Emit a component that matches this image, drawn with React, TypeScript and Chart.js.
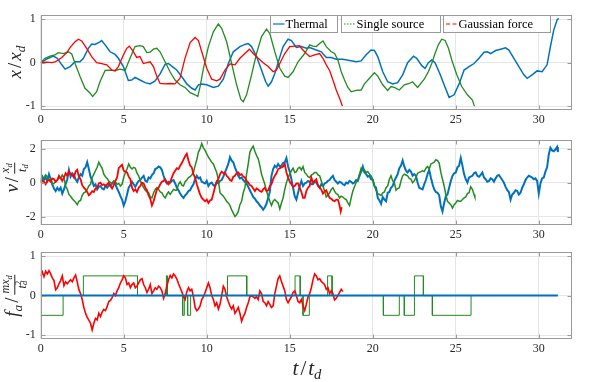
import React, { useEffect, useRef } from 'react';
import { Chart, registerables } from 'chart.js';
Chart.register(...registerables);

type P = [number, number][];

const SERIES_NAMES = ['Thermal', 'Single source', 'Gaussian force'];
const X_TICKS = [0, 5, 10, 15, 20, 25, 30];
const Y1_TICKS = [-1, 0, 1];
const Y2_TICKS = [-2, 0, 2];
const Y3_TICKS = [-1, 0, 1];

// Panel 1: position x/x_d
const thermalX: P = [[0,0],[0.36,0.08],[0.76,0.15],[1.0,0.1],[1.27,-0.05],[1.47,-0.15],[1.77,-0.09],[2.07,0.02],[2.37,0.02],[2.57,0.1],[2.87,0.33],[3.07,0.43],[3.27,0.42],[3.57,0.48],[3.67,0.51],[3.88,0.41],[4.18,0.25],[4.48,0.19],[4.68,0.1],[4.98,-0.09],[5.28,-0.41],[5.48,-0.4],[5.68,-0.34],[5.98,-0.4],[6.29,-0.46],[6.59,-0.49],[6.89,-0.42],[7.19,-0.26],[7.49,-0.04],[7.69,-0.02],[7.89,-0.08],[8.19,-0.17],[8.49,-0.32],[8.8,-0.49],[9.1,-0.59],[9.3,-0.63],[9.5,-0.51],[9.7,-0.49],[10.0,-0.51],[10.4,-0.57],[10.7,-0.54],[11.0,-0.38],[11.3,-0.02],[11.6,0.25],[12.0,0.37],[12.3,0.42],[12.5,0.44],[12.7,0.37],[13.0,0.14],[13.3,-0.17],[13.55,-0.44],[13.7,-0.54],[13.9,-0.44],[14.1,-0.25],[14.3,0.0],[14.6,0.37],[14.9,0.54],[15.1,0.51],[15.4,0.35],[15.7,0.37],[16.0,0.33],[16.2,0.35],[16.6,0.29],[16.9,0.25],[17.2,0.12],[17.5,0.12],[17.8,0.08],[18.2,0.08],[18.6,0.05],[19.0,0.02],[19.3,0.04],[19.6,0.18],[19.9,0.29],[20.1,0.28],[20.3,0.14],[20.6,-0.21],[20.9,-0.44],[21.2,-0.49],[21.5,-0.46],[21.8,-0.28],[22.1,0.0],[22.45,0.15],[22.65,0.1],[22.95,-0.07],[23.15,-0.13],[23.35,0.0],[23.55,0.06],[23.75,0.0],[24.05,-0.26],[24.36,-0.57],[24.6,-0.8],[24.9,-0.74],[25.2,-0.49],[25.5,-0.17],[25.8,-0.09],[26.1,-0.02],[26.4,0.1],[26.7,0.24],[26.9,0.25],[27.1,0.21],[27.4,0.28],[27.7,0.31],[28.0,0.34],[28.2,0.29],[28.5,0.1],[28.8,-0.09],[29.1,-0.28],[29.3,-0.36],[29.6,-0.28],[29.9,-0.19],[30.2,-0.21],[30.5,-0.05],[30.7,0.37],[30.9,0.75],[31.1,0.98],[31.2,1.02]];
const singleX: P = [[0,0],[0.26,0.1],[0.56,0.15],[0.86,0.18],[1.06,0.23],[1.37,0.21],[1.67,0.25],[1.87,0.2],[2.07,-0.02],[2.37,-0.32],[2.67,-0.59],[2.97,-0.7],[3.13,-0.78],[3.37,-0.67],[3.57,-0.44],[3.88,-0.18],[4.18,-0.17],[4.48,-0.18],[4.78,-0.15],[5.08,-0.18],[5.38,0.1],[5.68,0.37],[5.98,0.39],[6.18,0.37],[6.39,0.23],[6.59,0.24],[6.79,0.31],[6.99,0.33],[7.19,0.25],[7.49,0.02],[7.79,-0.21],[8.09,-0.4],[8.39,-0.51],[8.69,-0.57],[9.0,-0.69],[9.3,-0.74],[9.46,-0.78],[9.6,-0.55],[9.8,-0.13],[10.1,0.37],[10.4,0.71],[10.7,0.89],[10.9,0.79],[11.2,0.48],[11.5,-0.02],[11.8,-0.51],[12.05,-0.84],[12.2,-0.9],[12.4,-0.74],[12.7,-0.28],[13.0,0.21],[13.3,0.6],[13.6,0.77],[13.8,0.67],[14.1,0.25],[14.4,-0.13],[14.7,-0.31],[14.9,-0.34],[15.2,-0.21],[15.5,0.02],[15.9,0.21],[16.2,0.41],[16.4,0.38],[16.6,0.37],[16.8,0.44],[17.0,0.5],[17.2,0.37],[17.5,0.25],[17.7,0.21],[17.9,0.06],[18.1,-0.21],[18.3,-0.4],[18.5,-0.57],[18.7,-0.67],[19.0,-0.64],[19.3,-0.63],[19.5,-0.49],[19.8,-0.36],[20.1,-0.23],[20.3,-0.31],[20.6,-0.51],[20.9,-0.64],[21.1,-0.55],[21.3,-0.57],[21.6,-0.63],[21.9,-0.51],[22.2,-0.48],[22.4,-0.44],[22.7,-0.57],[23.1,-0.38],[23.35,-0.21],[23.55,-0.02],[23.75,0.21],[23.95,0.41],[24.15,0.54],[24.36,0.51],[24.56,0.33],[24.76,0.06],[25.06,-0.28],[25.36,-0.55],[25.7,-0.74],[26.0,-0.86],[26.12,-1.0]];
const gaussX: P = [[0,0],[0.36,0.01],[0.66,0],[0.86,0.02],[1.06,0.06],[1.27,0.12],[1.57,0.23],[1.81,0.37],[2.07,0.48],[2.27,0.54],[2.47,0.5],[2.77,0.33],[3.07,0.14],[3.37,0],[3.67,-0.02],[3.98,-0.05],[4.28,-0.17],[4.48,-0.19],[4.68,-0.09],[4.94,0.14],[5.18,0.33],[5.34,0.38],[5.54,0.28],[5.78,0.12],[5.98,0.14],[6.18,-0.02],[6.39,0],[6.59,0.02],[6.79,-0.09],[6.99,-0.31],[7.19,-0.48],[7.49,-0.49],[7.79,-0.48],[8.09,-0.49],[8.39,-0.36],[8.69,0.1],[9.0,0.46],[9.3,0.58],[9.5,0.51],[9.7,0.25],[10.0,-0.13],[10.3,-0.38],[10.6,-0.42],[10.8,-0.38],[11.1,-0.17],[11.4,-0.03],[11.7,-0.05],[12.0,0.1],[12.3,0.21],[12.57,0.31],[12.8,0.21],[13.1,0.1],[13.4,0],[13.7,-0.09],[14.0,-0.21],[14.2,-0.17],[14.4,-0.02],[14.7,0.21],[15.0,0.37],[15.3,0.38],[15.6,0.39],[15.7,0.33],[16.0,0.21],[16.2,0.14],[16.5,0.18],[16.8,0.21],[17.0,0.1],[17.2,-0.05],[17.4,-0.18],[17.6,-0.4],[17.8,-0.63],[18.0,-0.82],[18.17,-1.0]];

// Panel 2: velocity v/(x_d/t_d)
const thermalV: P = [[0,0.1],[0.1,0.35],[0.2,0.15],[0.3,0.3],[0.4,0.1],[0.5,0.5],[0.6,0.2],[0.7,-0.1],[0.8,-0.35],[0.9,-0.5],[1.0,-0.3],[1.1,-0.45],[1.2,-0.3],[1.3,-0.65],[1.4,-0.4],[1.5,-0.1],[1.6,0.2],[1.7,0.75],[1.8,0.35],[1.9,0.55],[2.0,0.45],[2.1,0.2],[2.2,0.05],[2.3,0.3],[2.4,0.5],[2.5,0.4],[2.6,0.8],[2.7,0.9],[2.8,1.2],[2.9,0.8],[3.0,0.35],[3.1,0.1],[3.2,-0.2],[3.3,-0.1],[3.4,-0.4],[3.5,-0.25],[3.6,-0.2],[3.7,-0.35],[3.8,-0.4],[3.9,-0.2],[4.0,-0.3],[4.1,-0.15],[4.2,-0.2],[4.3,-0.05],[4.4,0.05],[4.5,-0.1],[4.6,-0.35],[4.7,-0.55],[4.8,-0.8],[4.9,-1.0],[5.0,-1.35],[5.1,-1.1],[5.2,-0.7],[5.3,-0.3],[5.4,-0.15],[5.5,0.05],[5.6,-0.1],[5.7,-0.25],[5.8,-0.05],[5.9,0.1],[6.0,0.15],[6.1,0.3],[6.2,0.4],[6.3,0.1],[6.4,0.05],[6.5,0.3],[6.6,0.25],[6.7,0.45],[6.8,0.55],[6.9,0.8],[7.0,0.85],[7.1,0.95],[7.2,0.9],[7.3,0.75],[7.4,0.4],[7.5,0.1],[7.6,-0.05],[7.7,0.05],[7.8,0.0],[7.9,0.1],[8.0,0.15],[8.1,-0.05],[8.2,-0.3],[8.3,-0.45],[8.4,-0.65],[8.5,-0.8],[8.6,-0.9],[8.7,-0.75],[8.8,-0.65],[8.9,-0.5],[9.0,-0.45],[9.1,-0.25],[9.2,-0.1],[9.3,0.2],[9.4,0.4],[9.5,0.25],[9.6,0.3],[9.7,0.05],[9.8,0.0],[9.9,-0.05],[10.0,0.1],[10.1,-0.2],[10.2,-0.05],[10.3,0.0],[10.4,-0.15],[10.5,-0.2],[10.6,0.05],[10.7,-0.05],[10.8,0.1],[10.9,0.15],[11.0,0.35],[11.1,0.6],[11.2,0.85],[11.3,1.1],[11.4,1.5],[11.5,1.3],[11.6,1.2],[11.7,0.9],[11.8,0.65],[11.9,0.4],[12.0,0.25],[12.1,0.3],[12.2,0.15],[12.3,0.05],[12.4,-0.05],[12.5,-0.25],[12.6,-0.45],[12.7,-0.65],[12.8,-0.85],[12.9,-0.95],[13.0,-1.1],[13.1,-1.2],[13.2,-1.35],[13.3,-1.45],[13.4,-1.6],[13.5,-1.45],[13.6,-1.25],[13.7,-0.9],[13.8,-0.55],[13.9,0.4],[14.0,0.8],[14.1,1.0],[14.2,0.9],[14.3,1.1],[14.4,0.95],[14.5,1.0],[14.6,1.15],[14.7,1.2],[14.8,1.45],[14.9,0.95],[15.0,0.65],[15.1,0.2],[15.2,-0.3],[15.3,-0.8],[15.4,-1.0],[15.5,-0.6],[15.6,-0.2],[15.7,0.1],[15.8,-0.2],[15.9,-0.05],[16.0,0.0],[16.1,0.1],[16.2,0.05],[16.3,-0.1],[16.4,-0.1],[16.5,0.05],[16.6,0.0],[16.7,-0.15],[16.8,-0.3],[16.9,-0.1],[17.0,-0.2],[17.1,-0.05],[17.2,0.0],[17.3,0.1],[17.4,0.15],[17.5,0.3],[17.6,0.4],[17.7,0.15],[17.8,0.05],[17.9,-0.05],[18.0,0.05],[18.1,0.0],[18.2,-0.1],[18.3,-0.15],[18.4,0.0],[18.5,-0.05],[18.6,0.1],[18.7,0.05],[18.8,-0.05],[18.9,0.0],[19.0,0.15],[19.1,0.1],[19.2,0.4],[19.3,0.65],[19.4,0.95],[19.5,0.6],[19.6,0.5],[19.7,0.35],[19.8,0.4],[19.9,0.2],[20.0,0.15],[20.1,-0.2],[20.2,-0.3],[20.3,-0.9],[20.4,-1.05],[20.5,-1.25],[20.6,-0.85],[20.7,-1.0],[20.8,-1.1],[20.9,-0.6],[21.0,-0.55],[21.1,-0.3],[21.2,-0.2],[21.3,0.1],[21.4,0.3],[21.5,0.5],[21.6,0.85],[21.7,1.0],[21.8,1.3],[21.9,0.95],[22.0,0.7],[22.1,0.6],[22.2,0.75],[22.3,0.65],[22.4,0.4],[22.5,0.5],[22.6,0.4],[22.7,0.0],[22.8,-0.3],[22.9,-0.35],[23.0,-0.4],[23.1,-0.1],[23.2,0.15],[23.3,0.5],[23.4,0.75],[23.5,0.3],[23.6,-0.1],[23.7,-0.4],[23.8,-0.55],[23.9,-0.6],[24.0,-0.75],[24.1,-1.4],[24.2,-1.7],[24.3,-1.2],[24.4,-0.8],[24.5,-0.7],[24.6,-0.3],[24.7,0.1],[24.8,0.4],[24.9,0.55],[25.0,0.6],[25.1,0.9],[25.2,1.0],[25.3,1.45],[25.4,1.0],[25.5,0.5],[25.6,0.2],[25.7,0.0],[25.8,0.3],[25.9,0.35],[26.0,0.4],[26.1,0.55],[26.2,0.6],[26.3,0.4],[26.4,0.35],[26.5,0.45],[26.6,0.6],[26.7,0.3],[26.8,0.2],[26.9,0.05],[27.0,0.1],[27.1,0.25],[27.2,0.2],[27.3,0.05],[27.4,0.25],[27.5,0.4],[27.6,0.45],[27.7,0.3],[27.8,0.15],[27.9,0.0],[28.0,-0.25],[28.1,-0.45],[28.2,-0.55],[28.3,-1.0],[28.4,-0.7],[28.5,-0.6],[28.6,-0.45],[28.7,-0.5],[28.8,-0.7],[28.9,-0.6],[29.0,-0.3],[29.1,-0.1],[29.2,0.15],[29.3,0.3],[29.4,0.4],[29.5,0.35],[29.6,0.3],[29.7,0.2],[29.8,0.25],[29.9,0.1],[30.0,-0.65],[30.1,-0.05],[30.2,0.25],[30.3,0.3],[30.4,0.65],[30.5,0.9],[30.6,1.65],[30.7,2.05],[30.8,1.9],[30.9,1.85],[31.0,1.95],[31.1,2.1],[31.15,1.8]];
const singleV: P = [[0,0],[0.1,0.2],[0.2,0.3],[0.3,0.45],[0.4,0.35],[0.5,0.15],[0.6,0.2],[0.7,-0.1],[0.8,-0.05],[0.9,0.05],[1.0,0.15],[1.1,0.3],[1.2,0.25],[1.3,0.45],[1.4,0.3],[1.5,-0.2],[1.6,-0.4],[1.7,-0.7],[1.8,-0.8],[1.9,-0.95],[2.0,-1.05],[2.1,-1.15],[2.2,-1.3],[2.3,-1.1],[2.4,-1.05],[2.5,-0.75],[2.6,-0.6],[2.7,-0.55],[2.8,-0.4],[2.9,-0.2],[3.0,-0.1],[3.1,0.3],[3.2,0.5],[3.3,0.7],[3.4,0.9],[3.5,1.2],[3.6,1.0],[3.7,0.85],[3.8,0.5],[3.9,0.35],[4.0,0.25],[4.1,0.1],[4.2,0.0],[4.3,-0.05],[4.4,0.1],[4.5,0.05],[4.6,-0.1],[4.7,-0.05],[4.8,-0.2],[4.9,-0.1],[5.0,0.3],[5.1,0.6],[5.2,0.8],[5.3,1.1],[5.4,0.9],[5.5,0.8],[5.6,0.9],[5.7,0.85],[5.8,0.55],[5.9,0.4],[6.0,0.1],[6.1,-0.1],[6.2,-0.3],[6.3,-0.45],[6.4,-0.55],[6.5,-0.6],[6.6,-0.85],[6.7,-0.9],[6.8,-0.6],[6.9,-0.4],[7.0,-0.3],[7.1,-0.4],[7.2,-0.55],[7.3,-0.6],[7.4,-0.8],[7.5,-0.9],[7.6,-0.7],[7.7,-0.55],[7.8,-0.7],[7.9,-0.55],[8.0,-0.4],[8.1,-0.45],[8.2,-0.45],[8.3,-0.1],[8.4,0.05],[8.5,-0.15],[8.6,-0.2],[8.7,0.05],[8.8,0.15],[8.9,0.3],[9.0,0.35],[9.1,0.45],[9.2,0.6],[9.3,1.0],[9.4,1.35],[9.5,1.8],[9.6,2.0],[9.7,2.3],[9.8,2.05],[9.9,1.9],[10.0,1.7],[10.1,1.5],[10.2,1.35],[10.3,1.2],[10.4,1.1],[10.5,0.85],[10.6,0.6],[10.7,0.15],[10.8,-0.6],[10.9,-0.7],[11.0,-0.8],[11.1,-0.95],[11.2,-1.1],[11.3,-1.2],[11.4,-1.35],[11.5,-1.6],[11.6,-1.8],[11.7,-2.0],[11.8,-1.9],[11.9,-1.7],[12.0,-1.3],[12.1,-1.1],[12.2,-0.6],[12.3,-0.3],[12.4,0.5],[12.5,1.1],[12.6,1.8],[12.7,2.0],[12.8,2.15],[12.9,1.85],[13.0,1.6],[13.1,1.4],[13.2,1.0],[13.3,0.5],[13.4,0.2],[13.5,-0.1],[13.6,-0.5],[13.7,-0.8],[13.8,-1.1],[13.9,-1.35],[14.0,-1.1],[14.1,-1.0],[14.2,-1.1],[14.3,-1.2],[14.4,-1.55],[14.5,-1.2],[14.6,-0.9],[14.7,-0.4],[14.8,0.0],[14.9,0.3],[15.0,0.5],[15.1,0.7],[15.2,0.85],[15.3,0.6],[15.4,0.65],[15.5,0.85],[15.6,0.9],[15.7,0.75],[15.8,0.95],[15.9,0.6],[16.0,0.5],[16.1,0.35],[16.2,0.3],[16.3,0.45],[16.4,0.5],[16.5,0.6],[16.6,0.6],[16.7,0.45],[16.8,0.4],[16.9,0.1],[17.0,-0.2],[17.1,-0.5],[17.2,-0.85],[17.3,-0.75],[17.4,-0.6],[17.5,-0.4],[17.6,-0.3],[17.7,-0.5],[17.8,-0.65],[17.9,-0.7],[18.0,-0.9],[18.1,-0.8],[18.2,-0.85],[18.3,-0.95],[18.4,-1.0],[18.5,-1.2],[18.6,-1.35],[18.7,-0.9],[18.8,-0.5],[18.9,-0.25],[19.0,0.0],[19.1,0.15],[19.2,0.5],[19.3,0.85],[19.4,0.7],[19.5,0.75],[19.6,0.6],[19.7,0.65],[19.8,0.5],[19.9,0.4],[20.0,0.2],[20.1,-0.2],[20.2,-0.45],[20.3,-0.65],[20.4,-0.7],[20.5,-0.75],[20.6,-0.6],[20.7,-0.55],[20.8,-0.3],[20.9,-0.2],[21.0,0.2],[21.1,0.4],[21.2,0.1],[21.3,0.0],[21.4,-0.45],[21.5,-0.35],[21.6,-0.3],[21.7,0.1],[21.8,0.4],[21.9,0.5],[22.0,0.45],[22.1,0.4],[22.2,0.25],[22.3,0.2],[22.4,0.0],[22.5,0.1],[22.6,0.3],[22.7,0.55],[22.8,0.6],[22.9,0.65],[23.0,0.7],[23.1,0.65],[23.2,0.85],[23.3,0.95],[23.4,0.8],[23.5,1.1],[23.6,1.15],[23.7,1.2],[23.8,1.35],[23.9,1.3],[24.0,1.15],[24.1,0.6],[24.2,0.2],[24.3,-0.2],[24.4,-0.7],[24.5,-1.1],[24.6,-1.2],[24.7,-1.3],[24.8,-1.5],[24.9,-1.3],[25.0,-1.2],[25.1,-1.05],[25.2,-1.1],[25.3,-1.1],[25.4,-1.0],[25.5,-0.9],[25.6,-0.85],[25.7,-0.65],[25.8,-0.6],[25.9,-0.25],[26.0,-0.4],[26.1,-0.7],[26.15,-0.85]];
const gaussV: P = [[0,0],[0.1,0.1],[0.2,0.05],[0.3,-0.1],[0.4,0.1],[0.5,0.15],[0.6,0.05],[0.7,0.25],[0.8,0.2],[0.9,0.05],[1.0,0.15],[1.1,0.4],[1.2,0.25],[1.3,0.1],[1.4,0.3],[1.5,0.55],[1.6,0.4],[1.7,0.65],[1.8,0.5],[1.9,0.45],[2.0,0.3],[2.1,0.65],[2.2,0.75],[2.3,0.35],[2.4,0.2],[2.5,-0.15],[2.6,-0.3],[2.7,-0.4],[2.8,-0.55],[2.9,-0.75],[3.0,-0.65],[3.1,-0.5],[3.2,-0.55],[3.3,-0.35],[3.4,-0.3],[3.5,-0.05],[3.6,0.0],[3.7,-0.15],[3.8,-0.1],[3.9,-0.2],[4.0,-0.1],[4.1,0.0],[4.2,-0.2],[4.3,-0.35],[4.4,-0.15],[4.5,0.1],[4.6,0.3],[4.7,0.85],[4.8,0.95],[4.9,1.05],[5.0,0.7],[5.1,0.65],[5.2,0.6],[5.3,0.35],[5.4,0.2],[5.5,-0.3],[5.6,-0.5],[5.7,-0.4],[5.8,-0.55],[5.9,-0.3],[6.0,-0.2],[6.1,0.0],[6.2,-0.05],[6.3,-0.3],[6.4,-0.45],[6.5,-0.75],[6.6,-0.95],[6.7,-1.35],[6.8,-1.1],[6.9,-0.75],[7.0,-0.4],[7.1,-0.3],[7.2,-0.1],[7.3,0.05],[7.4,0.1],[7.5,0.2],[7.6,0.0],[7.7,-0.1],[7.8,0.05],[7.9,0.3],[8.0,0.55],[8.1,0.7],[8.2,0.85],[8.3,0.8],[8.4,1.0],[8.5,1.15],[8.6,1.35],[8.7,1.55],[8.8,1.7],[8.9,1.3],[9.0,1.0],[9.1,0.9],[9.2,0.5],[9.3,0.3],[9.4,-0.1],[9.5,-0.4],[9.6,-0.7],[9.7,-0.9],[9.8,-1.0],[9.9,-1.1],[10.0,-1.0],[10.1,-1.2],[10.2,-1.05],[10.3,-1.0],[10.4,-0.65],[10.5,-0.25],[10.6,0.05],[10.7,0.2],[10.8,0.5],[10.9,0.65],[11.0,0.55],[11.1,0.6],[11.2,0.4],[11.3,0.3],[11.4,0.15],[11.5,0.1],[11.6,0.35],[11.7,0.4],[11.8,0.55],[11.9,0.6],[12.0,0.45],[12.1,0.5],[12.2,0.35],[12.3,0.3],[12.4,0.1],[12.5,0.0],[12.6,-0.15],[12.7,-0.2],[12.8,-0.35],[12.9,-0.5],[13.0,-0.35],[13.1,-0.4],[13.2,-0.5],[13.3,-0.55],[13.4,-0.4],[13.5,-0.3],[13.6,-0.5],[13.7,-0.45],[13.8,-0.2],[13.9,-0.1],[14.0,0.2],[14.1,0.4],[14.2,0.55],[14.3,0.8],[14.4,0.85],[14.5,0.9],[14.6,0.95],[14.7,1.1],[14.8,0.6],[14.9,0.3],[15.0,0.05],[15.1,-0.1],[15.2,-0.25],[15.3,-0.2],[15.4,-0.05],[15.5,-0.05],[15.6,-0.3],[15.7,-0.55],[15.8,-0.9],[15.9,-0.9],[16.0,-0.5],[16.1,-0.3],[16.2,-0.2],[16.3,0.3],[16.4,0.0],[16.5,0.1],[16.6,0.2],[16.7,-0.2],[16.8,-0.3],[16.9,-0.4],[17.0,-0.65],[17.1,-0.5],[17.2,-0.45],[17.3,-0.7],[17.4,-0.9],[17.5,-0.95],[17.6,-1.05],[17.7,-1.1],[17.8,-1.0],[17.9,-1.0],[18.0,-1.35],[18.07,-1.7],[18.13,-1.45]];

// Panel 3: active force f_a/(m x_d/t_d^2)
const thermalF: P = [[0,0],[31.15,0]];
const singleF: P = [[0,-0.5],[1.35,-0.5],[1.35,0],[2.57,0],[2.57,0.5],[5.83,0.5],[5.83,0],[7.57,0],[7.57,0.5],[7.63,0.5],[7.63,0],[8.55,0],[8.55,-0.5],[8.65,-0.5],[8.65,0],[8.85,0],[8.85,-0.5],[9.03,-0.5],[9.03,0],[11.25,0],[11.25,0.5],[12.41,0.5],[12.41,0],[15.32,0],[15.32,0.5],[15.63,0.5],[15.63,0],[15.8,0],[15.8,-0.5],[16.18,-0.5],[16.18,0],[17.28,0],[17.28,0.5],[17.55,0.5],[17.55,0],[20.64,0],[20.64,-0.5],[21.6,-0.5],[21.6,0],[21.9,0],[21.9,-0.5],[22.51,-0.5],[22.51,0.5],[23.05,0.5],[23.05,0],[23.59,0],[23.59,-0.5],[25.92,-0.5],[25.92,0],[26.12,0]];
const gaussF: P = [[0,0.5],[0.1,0.6],[0.2,0.48],[0.3,0.62],[0.4,0.55],[0.5,0.63],[0.6,0.55],[0.7,0.45],[0.8,0.38],[0.9,0.15],[1.0,0.2],[1.1,0.3],[1.2,0.38],[1.3,0.5],[1.4,0.25],[1.5,0.35],[1.6,0.3],[1.7,0.35],[1.8,0.4],[1.9,0.35],[2.0,0.45],[2.1,0.52],[2.2,0.35],[2.3,0.15],[2.4,0.05],[2.5,-0.1],[2.6,-0.3],[2.7,-0.45],[2.8,-0.55],[2.9,-0.62],[3.0,-0.7],[3.1,-0.87],[3.2,-0.7],[3.3,-0.58],[3.4,-0.62],[3.5,-0.45],[3.6,-0.53],[3.7,-0.42],[3.8,-0.35],[3.9,-0.38],[4.0,-0.28],[4.1,-0.15],[4.2,-0.12],[4.3,-0.05],[4.4,0.05],[4.5,0.0],[4.6,0.12],[4.7,0.2],[4.8,0.32],[4.9,0.4],[5.0,0.5],[5.1,0.45],[5.2,0.28],[5.3,0.32],[5.4,0.2],[5.5,0.28],[5.6,0.32],[5.7,0.2],[5.8,0.24],[5.9,0.32],[6.0,0.4],[6.1,0.43],[6.2,0.28],[6.3,0.2],[6.4,0.08],[6.5,0.16],[6.6,0.28],[6.7,0.05],[6.8,0.12],[6.9,0.2],[7.0,0.16],[7.1,0.24],[7.2,0.2],[7.3,0.12],[7.4,-0.07],[7.5,0.05],[7.6,0.25],[7.7,0.4],[7.8,0.51],[7.9,0.45],[8.0,0.55],[8.1,0.5],[8.2,0.42],[8.3,0.3],[8.4,0.2],[8.5,0.1],[8.6,-0.03],[8.7,-0.1],[8.8,0.1],[8.9,0.2],[9.0,0.12],[9.1,0.16],[9.2,-0.03],[9.3,-0.3],[9.4,-0.38],[9.5,-0.34],[9.6,-0.26],[9.7,-0.1],[9.8,-0.03],[9.9,0.08],[10.0,0.2],[10.1,0.32],[10.2,0.2],[10.3,0.0],[10.4,-0.1],[10.5,-0.26],[10.6,-0.18],[10.7,-0.34],[10.8,-0.22],[10.9,0.0],[11.0,0.24],[11.1,0.16],[11.2,-0.03],[11.3,-0.15],[11.4,-0.26],[11.5,-0.34],[11.6,-0.26],[11.7,-0.45],[11.8,-0.38],[11.9,-0.3],[12.0,-0.45],[12.1,-0.65],[12.2,-0.53],[12.3,-0.45],[12.4,-0.3],[12.5,-0.18],[12.6,-0.03],[12.7,0.0],[12.8,-0.03],[12.9,-0.07],[13.0,-0.03],[13.1,-0.1],[13.2,0.12],[13.3,0.05],[13.4,-0.15],[13.5,-0.18],[13.6,-0.26],[13.7,-0.15],[13.8,-0.22],[13.9,-0.3],[14.0,-0.26],[14.1,0.05],[14.2,0.24],[14.3,0.43],[14.4,0.5],[14.5,0.36],[14.6,0.24],[14.7,0.12],[14.8,-0.1],[14.9,-0.18],[15.0,-0.1],[15.1,-0.03],[15.2,0.08],[15.3,0.12],[15.4,0.0],[15.5,-0.15],[15.6,-0.18],[15.7,-0.1],[15.8,-0.26],[15.9,-0.38],[16.0,-0.22],[16.1,-0.03],[16.2,0.05],[16.3,0.2],[16.4,0.4],[16.5,0.55],[16.6,0.5],[16.7,0.4],[16.8,0.43],[16.9,0.36],[17.0,0.32],[17.1,0.28],[17.2,0.16],[17.3,0.2],[17.4,0.05],[17.5,0.12],[17.6,0.05],[17.7,-0.11],[17.8,-0.07],[17.9,0.0],[18.0,0.08],[18.1,0.16],[18.2,0.1]];

const BLUE = '#0072BD';
const GREEN = '#228B22';
const RED = '#FF0000';
const TEXT = '#262626';
const GRID = '#e6e6e6';
const AXIS = '#9a9a9a';
const FONT = '"Liberation Serif", "Times New Roman", serif';

const boxPlugin = {
  id: 'axbox',
  afterDatasetsDraw(chart: any) {
    const { ctx, chartArea: a, scales } = chart;
    ctx.save();
    ctx.strokeStyle = AXIS;
    ctx.lineWidth = 1;
    const L = Math.round(a.left) + 0.5, R = Math.round(a.right) - 0.5;
    const T = Math.round(a.top) + 0.5, B = Math.round(a.bottom) - 0.5;
    ctx.strokeRect(L, T, R - L, B - T);
    const tl = 4;
    ctx.beginPath();
    scales.x.ticks.forEach((t: any) => {
      const px = Math.round(scales.x.getPixelForValue(t.value)) + 0.5;
      ctx.moveTo(px, B); ctx.lineTo(px, B - tl);
      ctx.moveTo(px, T); ctx.lineTo(px, T + tl);
    });
    scales.y.ticks.forEach((t: any) => {
      const py = Math.round(scales.y.getPixelForValue(t.value)) + 0.5;
      ctx.moveTo(L, py); ctx.lineTo(L + tl, py);
      ctx.moveTo(R, py); ctx.lineTo(R - tl, py);
    });
    ctx.stroke();
    ctx.restore();
  },
};

const legendPlugin = {
  id: 'boxLegend',
  afterDraw(chart: any) {
    const { ctx, chartArea: a } = chart;
    const items = [
      { x0: 270.5, x1: 337.5, color: BLUE, dash: [] as number[] },
      { x0: 341.5, x1: 440.5, color: GREEN, dash: [1.5, 1.5] },
      { x0: 443.5, x1: 550.5, color: RED, dash: [4, 2.5] },
    ];
    const top = Math.round(a.top) + 0.5;
    const h = 17;
    ctx.save();
    items.forEach((it, i) => {
      ctx.fillStyle = '#ffffff';
      ctx.fillRect(it.x0, top, it.x1 - it.x0, h);
      ctx.strokeStyle = AXIS;
      ctx.lineWidth = 1;
      ctx.setLineDash([]);
      ctx.strokeRect(it.x0, top, it.x1 - it.x0, h);
      const cy = top + h / 2;
      ctx.strokeStyle = it.color;
      ctx.lineWidth = 1.2;
      ctx.setLineDash(it.dash);
      ctx.beginPath();
      ctx.moveTo(it.x0 + 2.5, cy);
      ctx.lineTo(it.x0 + 14, cy);
      ctx.stroke();
      ctx.setLineDash([]);
      ctx.fillStyle = '#000';
      ctx.font = `12.5px ${FONT}`;
      ctx.textBaseline = 'middle';
      ctx.textAlign = 'left';
      ctx.fillText(SERIES_NAMES[i], it.x0 + 15, cy + 0.5);
    });
    ctx.restore();
  },
};

function ds(label: string, pts: P, color: string, width: number, order: number) {
  return {
    label,
    data: pts.map(([x, y]) => ({ x, y })),
    borderColor: color,
    backgroundColor: color,
    borderWidth: width,
    pointRadius: 0,
    tension: 0,
    fill: false,
    order,
  };
}

function opts(yMin: number, yMax: number, yTicks: number[], padTop: number, xAxisH: number) {
  const tickFont = { family: FONT, size: 12 };
  return {
    responsive: false,
    maintainAspectRatio: false,
    animation: false,
    events: [],
    layout: { padding: { left: 0, right: 26, top: padTop, bottom: 0 } },
    plugins: { legend: { display: false }, tooltip: { enabled: false } },
    scales: {
      x: {
        type: 'linear',
        min: 0,
        max: 32,
        afterBuildTicks: (s: any) => { s.ticks = X_TICKS.map((v) => ({ value: v })); },
        afterFit: (s: any) => { s.height = xAxisH; },
        grid: { color: GRID, drawTicks: false, lineWidth: 1 },
        border: { display: false },
        ticks: { padding: 3, font: tickFont, color: TEXT, maxRotation: 0, autoSkip: false, callback: (v: any) => String(v) },
      },
      y: {
        type: 'linear',
        min: yMin,
        max: yMax,
        afterBuildTicks: (s: any) => { s.ticks = yTicks.map((v) => ({ value: v })); },
        afterFit: (s: any) => { s.width = 40.7; },
        grid: { color: GRID, drawTicks: false, lineWidth: 1 },
        border: { display: false },
        ticks: { padding: 5, font: tickFont, color: TEXT, callback: (v: any) => String(v) },
      },
    },
  };
}

const mathStyle: React.CSSProperties = {
  position: 'absolute',
  fontFamily: FONT,
  color: TEXT,
  whiteSpace: 'nowrap',
  lineHeight: 1,
};

const I = ({ children }: { children: React.ReactNode }) => <i>{children}</i>;
const Sub = ({ children }: { children: React.ReactNode }) => (
  <span style={{ fontSize: '0.7em', fontStyle: 'italic', position: 'relative', top: '0.3em' }}>{children}</span>
);
const SupSub = ({ sup, sub }: { sup: React.ReactNode; sub: React.ReactNode }) => (
  <span style={{ display: 'inline-block', position: 'relative', width: '0.55em', height: '1em', fontSize: '0.7em' }}>
    <span style={{ position: 'absolute', left: 0, top: '-0.3em', lineHeight: 1 }}>{sup}</span>
    <span style={{ position: 'absolute', left: 0, top: '0.45em', lineHeight: 1, fontStyle: 'italic' }}>{sub}</span>
  </span>
);

function Frac({ num, den, size }: { num: React.ReactNode; den: React.ReactNode; size: number }) {
  return (
    <span style={{ display: 'inline-flex', flexDirection: 'column', alignItems: 'center', fontSize: size, verticalAlign: 'middle', margin: '0 1px', lineHeight: 1.05 }}>
      <span style={{ borderBottom: `1px solid ${TEXT}`, padding: '0 1px 2px' }}>{num}</span>
      <span style={{ paddingTop: 1 }}>{den}</span>
    </span>
  );
}

function RotLabel({ cx, cy, children, size }: { cx: number; cy: number; size: number; children: React.ReactNode }) {
  return (
    <div style={{ ...mathStyle, left: cx, top: cy, fontSize: size, transform: 'translate(-50%, -50%) rotate(-90deg)' }}>
      {children}
    </div>
  );
}

export default function App() {
  const r1 = useRef<HTMLCanvasElement>(null);
  const r2 = useRef<HTMLCanvasElement>(null);
  const r3 = useRef<HTMLCanvasElement>(null);

  useEffect(() => {
    const c1 = new Chart(r1.current as HTMLCanvasElement, {
      type: 'line',
      data: {
        datasets: [
          ds(SERIES_NAMES[0], thermalX, BLUE, 1.5, 3),
          ds(SERIES_NAMES[1], singleX, GREEN, 1.3, 2),
          ds(SERIES_NAMES[2], gaussX, RED, 1.3, 1),
        ],
      },
      options: opts(-1.09, 1.09, Y1_TICKS, 15.3, 18) as any,
      plugins: [boxPlugin, legendPlugin],
    });
    const c2 = new Chart(r2.current as HTMLCanvasElement, {
      type: 'line',
      data: {
        datasets: [
          ds(SERIES_NAMES[0], thermalV, BLUE, 2, 3),
          ds(SERIES_NAMES[1], singleV, GREEN, 1.5, 2),
          ds(SERIES_NAMES[2], gaussV, RED, 1.8, 1),
        ],
      },
      options: opts(-2.5, 2.5, Y2_TICKS, 2, 15) as any,
      plugins: [boxPlugin],
    });
    const c3 = new Chart(r3.current as HTMLCanvasElement, {
      type: 'line',
      data: {
        datasets: [
          ds(SERIES_NAMES[0], thermalF, BLUE, 2, 0),
          ds(SERIES_NAMES[1], singleF, GREEN, 1, 2),
          ds(SERIES_NAMES[2], gaussF, RED, 1.6, 1),
        ],
      },
      options: opts(-1.1, 1.1, Y3_TICKS, 4.3, 43) as any,
      plugins: [boxPlugin],
    });
    return () => { c1.destroy(); c2.destroy(); c3.destroy(); };
  }, []);

  const cv = (top: number, h: number): React.CSSProperties => ({ position: 'absolute', left: 0, top, width: 598, height: h, display: 'block' });

  return (
    <div style={{ position: 'fixed', left: 0, top: 0, width: 598, height: 382, background: '#fff', overflow: 'hidden' }}>
      <canvas ref={r1} width={598} height={128} style={cv(0, 128)} />
      <canvas ref={r2} width={598} height={112} style={cv(128, 112)} />
      <canvas ref={r3} width={598} height={142} style={cv(240, 142)} />

      <RotLabel cx={14} cy={62} size={19}>
        <I>x</I><span style={{ margin: '0 2px' }}>/</span><I>x</I><Sub>d</Sub>
      </RotLabel>
      <RotLabel cx={14} cy={177} size={19}>
        <I>v</I><span style={{ margin: '0 2px' }}>/</span>
        <Frac size={12} num={<><I>x</I><Sub>d</Sub></>} den={<><I>t</I><Sub>d</Sub></>} />
      </RotLabel>
      <RotLabel cx={14} cy={295} size={19}>
        <I>f</I><Sub>a</Sub><span style={{ margin: '0 2px' }}>/</span>
        <Frac size={12} num={<><I>mx</I><Sub>d</Sub></>} den={<><I>t</I><SupSub sup="2" sub="d" /></>} />
      </RotLabel>
      <div style={{ ...mathStyle, left: 307, top: 368, fontSize: 21, transform: 'translate(-50%, -50%)' }}>
        <I>t</I><span style={{ margin: '0 2px' }}>/</span><I>t</I><Sub>d</Sub>
      </div>
    </div>
  );
}
